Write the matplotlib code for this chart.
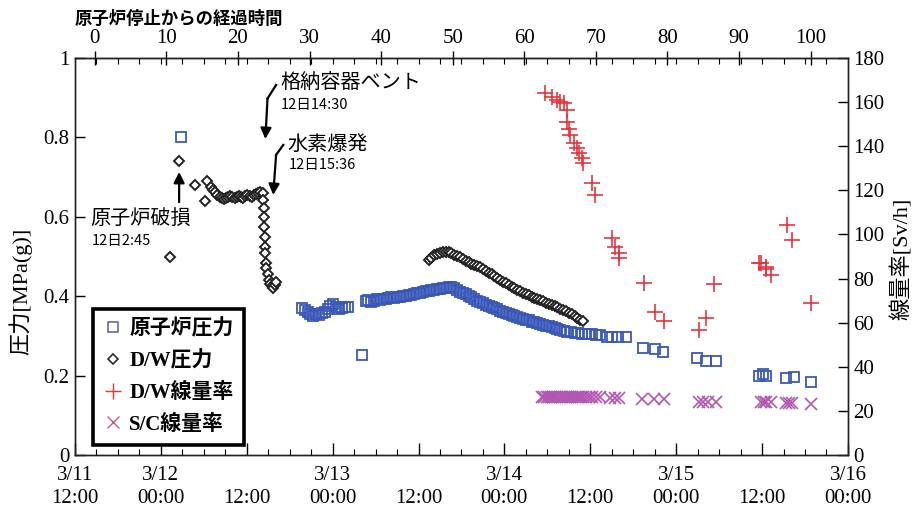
import matplotlib
matplotlib.use("Agg")
import matplotlib.pyplot as plt
from matplotlib.ticker import MultipleLocator, FixedLocator
from matplotlib.lines import Line2D

plt.rcParams['font.family'] = ['Liberation Serif', 'Noto Sans CJK JP']

# ---------------- data (x = hours since 3/11 12:00) ----------------
SHUTDOWN_OFFSET = 2.77  # 3/11 14:46

rp_t = [14.8,
        31.7, 32.1, 32.5, 32.9, 33.3, 33.7, 34.1, 34.5, 34.9, 35.3, 35.7, 36.1, 36.5, 36.9, 37.3, 37.7, 38.2,
        40.1,
        40.6, 41.0, 41.4, 41.8, 42.2, 42.6, 43.0, 43.4, 43.8, 44.2, 44.6, 45.0, 45.4, 45.8, 46.2, 46.6,
        47.0, 47.4, 47.8, 48.2, 48.6, 49.0, 49.4, 49.8, 50.2, 50.6, 51.0, 51.4, 51.8, 52.2, 52.6, 53.0,
        53.4, 53.8, 54.2, 54.6, 55.0, 55.4, 55.8, 56.2, 56.6, 57.0, 57.4, 57.8, 58.2, 58.6, 59.0, 59.4,
        59.8, 60.2, 60.6, 61.0, 61.4, 61.8, 62.2, 62.6, 63.0, 63.4, 63.8, 64.2, 64.6, 65.0, 65.4, 65.8,
        66.2, 66.6, 67.0, 67.4, 67.8, 68.3, 68.8, 69.3, 69.8, 70.3, 70.8, 71.3, 71.8, 72.3, 72.8, 73.3,
        74.4, 75.0, 75.8, 77.0, 79.3, 81.1, 82.2, 86.9, 88.1, 89.5, 95.6, 96.1, 96.5, 99.3, 100.5, 102.9]
rp_p = [0.80,
        0.370, 0.365, 0.360, 0.355, 0.350, 0.355, 0.352, 0.358, 0.360, 0.368, 0.375, 0.380, 0.372, 0.368, 0.370, 0.372, 0.373,
        0.252,
        0.388, 0.390, 0.386, 0.389, 0.392, 0.390, 0.394, 0.392, 0.395, 0.397, 0.396, 0.399, 0.398, 0.401, 0.400, 0.403,
        0.404, 0.405, 0.408, 0.407, 0.410, 0.412, 0.413, 0.415, 0.416, 0.418, 0.419, 0.420, 0.421, 0.422, 0.424, 0.420,
        0.415, 0.411, 0.408, 0.405, 0.401, 0.397, 0.393, 0.389, 0.386, 0.382, 0.379, 0.376, 0.373, 0.370, 0.367, 0.364,
        0.361, 0.358, 0.356, 0.353, 0.351, 0.348, 0.345, 0.343, 0.341, 0.339, 0.336, 0.334, 0.332, 0.330, 0.328, 0.326,
        0.324, 0.322, 0.320, 0.318, 0.316, 0.312, 0.310, 0.309, 0.308, 0.307, 0.306, 0.305, 0.305, 0.304, 0.303, 0.302,
        0.298, 0.298, 0.297, 0.297, 0.270, 0.266, 0.260, 0.245, 0.237, 0.237, 0.200, 0.203, 0.200, 0.193, 0.196, 0.185]

dw_t = [13.3, 14.5, 16.8, 18.2, 18.4,
        19.0, 19.3, 19.6, 19.9, 20.2, 20.5, 20.8, 21.1, 21.4, 21.7, 22.0, 22.3, 22.6, 22.9, 23.2, 23.5,
        23.8, 24.1, 24.4, 24.7, 25.0, 25.3, 25.6, 25.9, 26.2,
        26.3, 26.35, 26.4, 26.45, 26.5, 26.55, 26.6, 26.65, 26.7, 26.9, 27.1, 27.3, 27.5, 27.7, 27.9, 28.1,
        49.4, 49.8, 50.2, 50.6, 51.0, 51.4, 51.8, 52.2, 52.6, 53.0, 53.4, 53.8, 54.2, 54.6, 55.0, 55.4,
        55.8, 56.2, 56.6, 57.0, 57.4, 57.8, 58.2, 58.6, 59.0, 59.4, 59.8, 60.2, 60.6, 61.0, 61.4, 61.8,
        62.2, 62.6, 63.0, 63.4, 63.8, 64.2, 64.6, 65.0, 65.4, 65.8, 66.2, 66.6, 67.0, 67.4, 67.8, 68.2,
        68.6, 69.0, 69.4, 69.8, 70.2, 70.6, 71.0]
dw_p = [0.50, 0.74, 0.68, 0.64, 0.69,
        0.675, 0.668, 0.662, 0.656, 0.650, 0.647, 0.645, 0.648, 0.650, 0.652, 0.650, 0.648, 0.651, 0.653, 0.650, 0.648,
        0.652, 0.655, 0.652, 0.650, 0.654, 0.657, 0.659, 0.662, 0.660,
        0.642, 0.622, 0.600, 0.574, 0.549, 0.524, 0.509, 0.484, 0.470, 0.455, 0.440, 0.430, 0.425, 0.420, 0.428, 0.435,
        0.491, 0.497, 0.503, 0.507, 0.510, 0.511, 0.512, 0.511, 0.508, 0.505, 0.502, 0.498, 0.494, 0.489, 0.486, 0.482,
        0.479, 0.476, 0.473, 0.468, 0.464, 0.459, 0.455, 0.450, 0.446, 0.441, 0.437, 0.433, 0.428, 0.424, 0.420, 0.416,
        0.412, 0.409, 0.405, 0.402, 0.399, 0.396, 0.393, 0.390, 0.387, 0.384, 0.381, 0.378, 0.375, 0.372, 0.369, 0.366,
        0.362, 0.358, 0.354, 0.350, 0.346, 0.341, 0.337]

dwd_t = [65.7, 66.7, 67.4, 67.8, 68.3, 68.8, 68.8, 69.0, 69.2, 69.7, 70.2, 70.4, 70.9, 71.0, 72.3, 72.7,
         75.1, 75.5, 76.0, 76.0, 79.5, 81.1, 82.3, 87.2, 88.1, 89.3, 95.6, 95.8, 96.5, 96.5, 97.2, 99.5, 100.2, 102.8]
dwd_v = [164.0, 162.5, 161.0, 160.2, 159.5, 156.4, 151.0, 148.0, 145.0, 141.3, 139.0, 136.8, 134.5, 132.2, 123.2, 117.9,
         98.3, 94.4, 91.5, 89.2, 78.1, 65.0, 60.9, 56.7, 62.3, 77.4, 86.9, 86.9, 85.4, 84.2, 81.6, 104.3, 97.5, 68.8]

scd_t = [65.3, 65.6, 65.9, 66.2, 66.5, 66.8, 67.1, 67.4, 67.7, 68.0, 68.3, 68.6, 68.9, 69.2, 69.5, 69.8,
         70.1, 70.4, 70.7, 71.0, 71.4, 71.8, 72.3, 72.8, 73.4,
         74.8, 75.4, 76.0, 79.2, 80.9, 82.3, 87.2, 87.8, 88.4, 89.5, 95.8, 96.2, 96.5, 97.2, 99.3, 99.8, 100.2, 102.8]
scd_v = [26.2, 26.2, 26.2, 26.2, 26.2, 26.2, 26.2, 26.2, 26.2, 26.2, 26.2, 26.2, 26.2, 26.2, 26.2, 26.2,
         26.2, 26.2, 26.2, 26.2, 26.2, 26.2, 26.2, 26.2, 26.2,
         25.7, 25.7, 25.7, 25.3, 25.3, 25.3, 24.2, 24.2, 24.2, 24.2, 24.2, 24.2, 24.2, 24.2, 23.6, 23.6, 23.6, 23.1]

x_ticks = [0, 12, 24, 36, 48, 60, 72, 84, 96, 108]
x_ticklabels = ['3/11\n12:00', '3/12\n00:00', '\n12:00', '3/13\n00:00', '\n12:00',
                '3/14\n00:00', '\n12:00', '3/15\n00:00', '\n12:00', '3/16\n00:00']
top_ticks = [0, 10, 20, 30, 40, 50, 60, 70, 80, 90, 100]
left_ticks = [0, 0.2, 0.4, 0.6, 0.8, 1.0]
left_ticklabels = ['0', '0.2', '0.4', '0.6', '0.8', '1']
right_ticks = [0, 20, 40, 60, 80, 100, 120, 140, 160, 180]

labels = ['原子炉圧力', 'D/W圧力', 'D/W線量率', 'S/C線量率']

# ---------------- figure ----------------
fig = plt.figure(figsize=(9.2, 5.12), dpi=100)
ax = fig.add_axes([0.0815, 0.1113, 0.8402, 0.7754])
ax2 = ax.twinx()

BLUE = '#3a58b8'
RED = '#e8333c'
PURP = '#b258b2'

ax.plot(rp_t, rp_p, ls='none', marker='s', ms=6.5, mfc='none', mec=BLUE, mew=1.3, zorder=3)
ax.plot(dw_t, dw_p, ls='none', marker='D', ms=5.2, mfc='white', mec='#222222', mew=1.4, zorder=4)
ax2.plot(dwd_t, dwd_v, ls='none', marker='+', ms=11, mec=RED, mew=1.2)
ax2.plot(scd_t, scd_v, ls='none', marker='x', ms=8, mec=PURP, mew=1.2)

ax.set_xlim(0, 108)
ax.set_ylim(0, 1)
ax2.set_ylim(0, 180)

for a in (ax, ax2):
    for s in a.spines.values():
        s.set_linewidth(1.0)
        s.set_color('#222222')

ax.set_xticks(x_ticks)
ax.set_xticklabels(x_ticklabels, fontsize=15, linespacing=1.3)
ax.xaxis.set_minor_locator(MultipleLocator(3))
ax.tick_params(axis='x', which='major', direction='in', length=9, width=1, pad=8)
ax.tick_params(axis='x', which='minor', direction='in', length=4, width=0.8)

ax.set_yticks(left_ticks)
ax.set_yticklabels(left_ticklabels, fontsize=15)
ax.tick_params(axis='y', which='major', direction='in', length=7, width=1, pad=4)

ax2.set_yticks(right_ticks)
ax2.set_yticklabels([str(v) for v in right_ticks], fontsize=15)
ax2.tick_params(axis='y', which='major', direction='in', length=7, width=1, pad=4)

top = ax.secondary_xaxis('top', functions=(lambda x: x - SHUTDOWN_OFFSET, lambda x: x + SHUTDOWN_OFFSET))
top.set_xticks(top_ticks)
top.set_xticklabels([str(v) for v in top_ticks], fontsize=15)
top.xaxis.set_minor_locator(FixedLocator([t - SHUTDOWN_OFFSET for t in range(3, 108, 3)]))
top.tick_params(axis='x', which='major', direction='inout', length=10, width=1, pad=2)
top.tick_params(axis='x', which='minor', direction='in', length=4, width=0.8)

fig.text(0.0815, 0.963, '原子炉停止からの経過時間', fontsize=12.5, fontweight='bold',
         family=['Noto Sans CJK JP'], ha='left', va='center')

fig.text(0.022, 0.43, '圧力[MPa(g)]', rotation=90, fontsize=16, ha='center', va='center')
fig.text(0.980, 0.495, '線量率[Sv/h]', rotation=90, fontsize=16, ha='center', va='center')

# ---------------- annotations ----------------
jp = ['Noto Sans CJK JP']
ax.text(2.1, 0.596, '原子炉破損', fontsize=14.5, family=jp, ha='left', va='center')
ax.text(2.4, 0.540, '12日2:45', fontsize=10.5, family=jp, ha='left', va='center')
ax.annotate('', xy=(14.55, 0.72), xytext=(14.55, 0.63),
            arrowprops=dict(arrowstyle='-|>', color='black', lw=1.6, mutation_scale=16))

ax.text(28.7, 0.936, '格納容器ベント', fontsize=14.5, family=jp, ha='left', va='center')
ax.text(28.8, 0.882, '12日14:30', fontsize=10.5, family=jp, ha='left', va='center')
ax.plot([28.1, 26.9], [0.932, 0.898], color='black', lw=1.6)
ax.annotate('', xy=(26.6, 0.796), xytext=(26.9, 0.898),
            arrowprops=dict(arrowstyle='-|>', color='black', lw=1.6, mutation_scale=16,
                            shrinkA=0, shrinkB=0))

ax.text(29.7, 0.782, '水素爆発', fontsize=14.5, family=jp, ha='left', va='center')
ax.text(29.8, 0.731, '12日15:36', fontsize=10.5, family=jp, ha='left', va='center')
ax.plot([29.1, 28.1], [0.781, 0.756], color='black', lw=1.6)
ax.annotate('', xy=(27.7, 0.655), xytext=(28.1, 0.756),
            arrowprops=dict(arrowstyle='-|>', color='black', lw=1.6, mutation_scale=16,
                            shrinkA=0, shrinkB=0))

# ---------------- legend ----------------
handles = [
    Line2D([], [], ls='none', marker='s', ms=6.5, mfc='none', mec='#6a6aa0', mew=1.2),
    Line2D([], [], ls='none', marker='D', ms=5, mfc='white', mec='#2a2a2a', mew=1.2),
    Line2D([], [], ls='none', marker='+', ms=11, mec=RED, mew=1.0),
    Line2D([], [], ls='none', marker='x', ms=8, mec='#c06080', mew=1.0),
]
leg = ax2.legend(handles, labels, loc='lower left', bbox_to_anchor=(0.023, 0.025),
                 prop={'family': ['Liberation Serif', 'Noto Sans CJK JP'], 'weight': 'bold', 'size': 15},
                 frameon=True, fancybox=False, edgecolor='black', framealpha=1,
                 handlelength=0.9, handletextpad=0.35, labelspacing=0.55, borderpad=0.5,
                 borderaxespad=0)
leg.get_frame().set_linewidth(2.6)

fig.savefig('out.png', dpi=100)
